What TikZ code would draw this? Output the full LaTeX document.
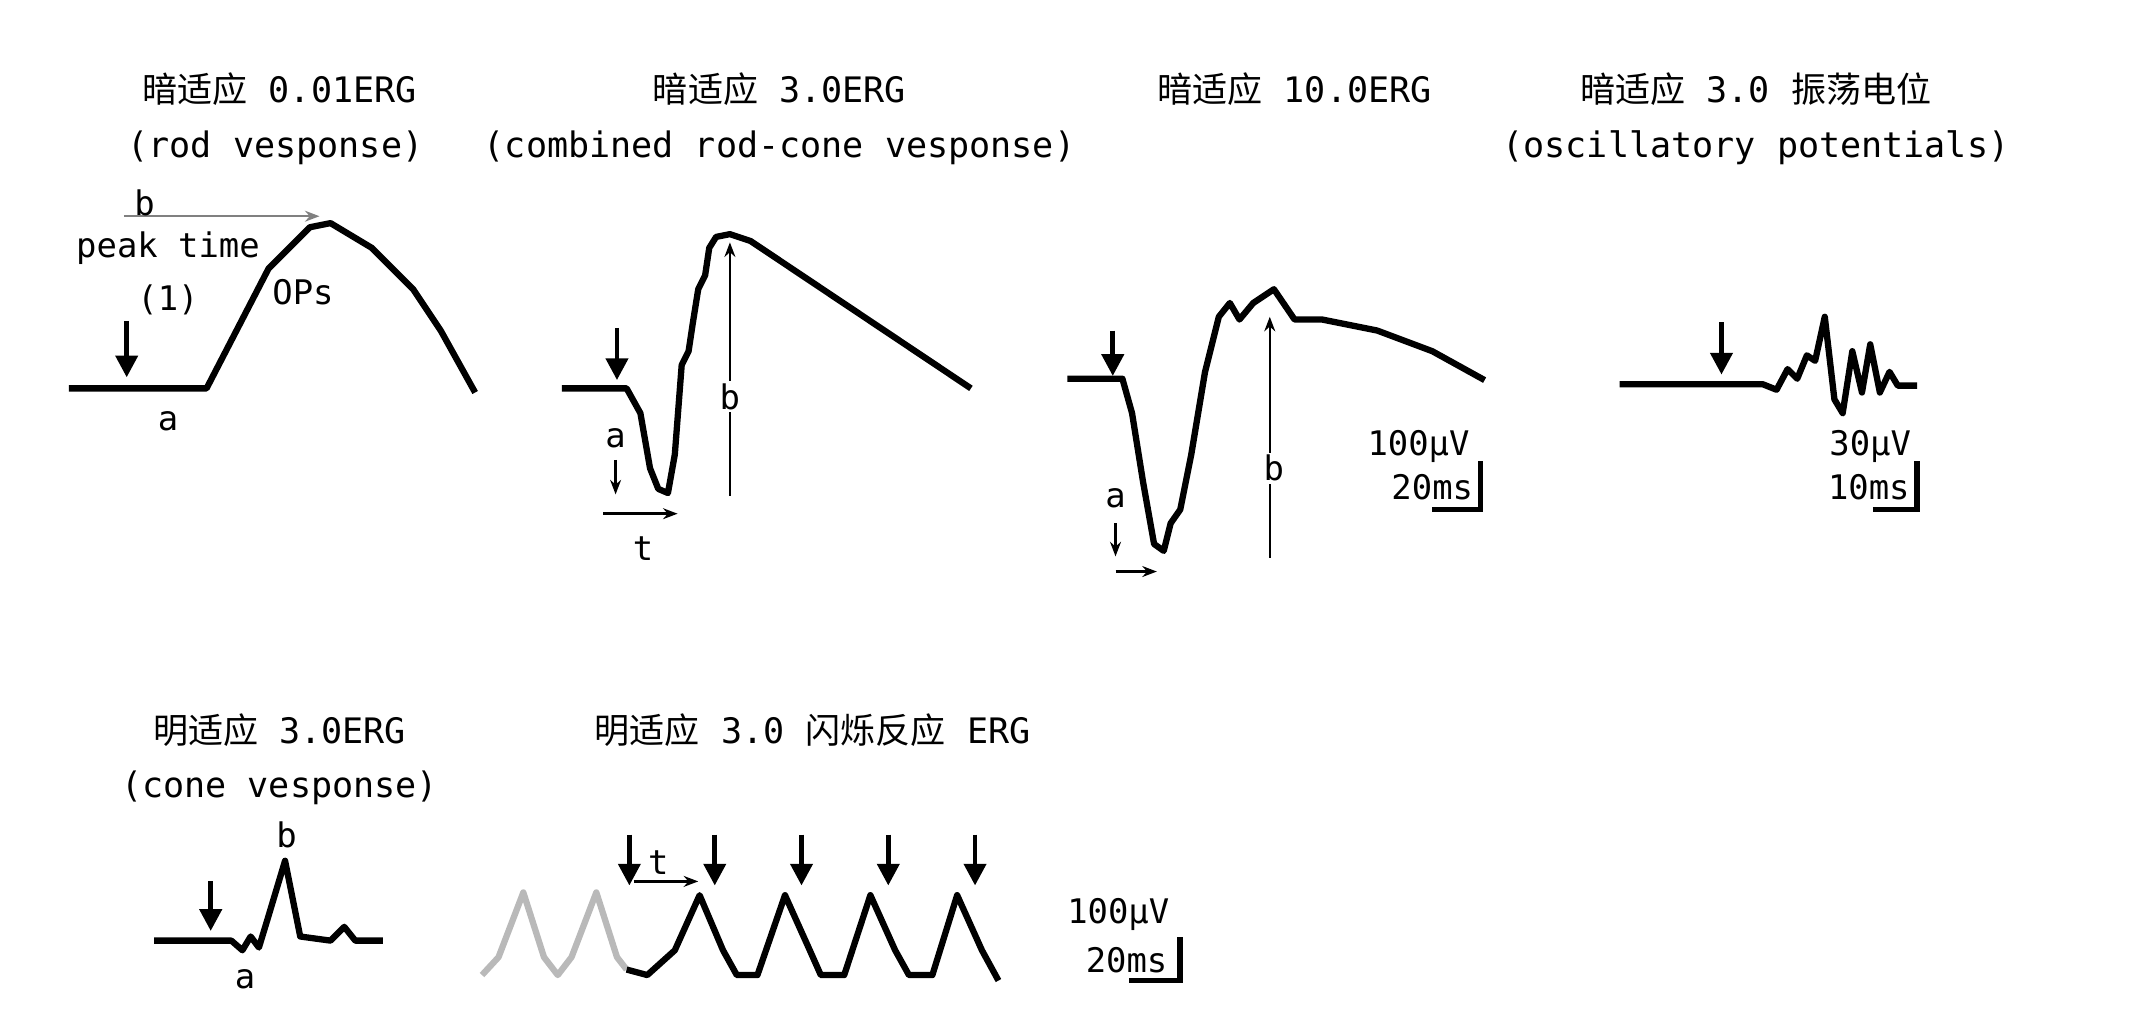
\documentclass[tikz,border=0pt]{standalone}
\usepackage{fontspec}
\setmainfont{DejaVu Sans Mono}
\newfontfamily\cjk{Noto Sans CJK SC}
\usetikzlibrary{arrows.meta,positioning}
\tikzset{trace/.style={line width=2.6pt, line join=round},
	gtrace/.style={line width=2.6pt, line join=round, gray!55},
	flash/.style={line width=2pt, -{Triangle[length=9pt,width=9pt]}},
	thin arrow/.style={line width=1pt, -{Stealth[length=6pt]}},
	lbl/.style={font=\fontsize{14}{17}\selectfont, inner sep=1pt},
	ttl/.style={font=\fontsize{14.5}{18}\selectfont, inner sep=1pt},
	bar/.style={line width=2.4pt}}
\begin{document}
\begin{tikzpicture}[x=0.02cm, y=-0.02cm]
	\useasboundingbox (0,0) rectangle (1551,745);
	% titles
	\node[ttl] (t1) at (203,65) {{\cjk 暗适应} 0.01ERG};
	\node[ttl] (s1) at (200,107) {(rod vesponse)};
	\node[ttl] (t2) at (566,65) {{\cjk 暗适应} 3.0ERG};
	\node[ttl] (s2) at (566,107) {(combined rod-cone vesponse)};
	\node[ttl] (t3) at (940,65) {{\cjk 暗适应} 10.0ERG};
	\node[ttl] (t4) at (1275,65) {{\cjk 暗适应} 3.0 {\cjk 振荡电位}};
	\node[ttl] (s4) at (1275,107) {(oscillatory potentials)};
	\node[ttl] (t5) at (203,530) {{\cjk 明适应} 3.0ERG};
	\node[ttl] (s5) at (203,572) {(cone vesponse)};
	\node[ttl] (t6) at (590,530) {{\cjk 明适应} 3.0 {\cjk 闪烁反应} ERG};
	
	% panel 1
	\draw[trace] (50,282) -- (150,282) -- (195,195) -- (225,165) -- (240,162) -- (270,180) -- (300,210) -- (320,240) -- (345,285);
	\coordinate (p1b0) at (90,157);
	\coordinate (p1b1) at (232,157);
	\draw[thin arrow, gray] (p1b0) -- (p1b1);
	\node[lbl] (p1b) at (105,147) {b};
	\node[lbl] (p1pk) at (122,180) {peak time};
	\node[lbl] (p1one) at (122,218) {(1)};
	\node[lbl] (p1op) at (220,212) {OPs};
	\node[lbl] (p1a) at (122,306) {a};
	\coordinate (f1) at (92,233);
	\coordinate (f1e) at (92,274);
	\draw[flash] (f1) -- (f1e);
	
	% panel 2
	\draw[trace] (408,282) -- (455,282) -- (465,300) -- (472,340) -- (478,355) -- (485,358) -- (490,330) -- (495,265) -- (500,255) -- (503,235) -- (507,210) -- (512,200) -- (515,180) -- (520,172) -- (530,170) -- (545,175) -- (705,282);
	\coordinate (f2) at (448,238);
	\coordinate (f2e) at (448,276);
	\draw[flash] (f2) -- (f2e);
	\coordinate (p2b0) at (530,360);
	\coordinate (p2b1) at (530,176);
	\draw[thin arrow] (p2b0) -- (p2b1);
	\node[lbl, fill=white] (p2b) at (530,288) {b};
	\node[lbl] (p2a) at (447,318) {a};
	\coordinate (p2a0) at (447,334);
	\coordinate (p2a1) at (447,359);
	\draw[thin arrow] (p2a0) -- (p2a1);
	\coordinate (p2t0) at (438,373);
	\coordinate (p2t1) at (492,373);
	\draw[thin arrow] (p2t0) -- (p2t1);
	\node[lbl] (p2t) at (467,398) {t};
	
	% panel 3
	\draw[trace] (775,275) -- (815,275) -- (822,300) -- (830,350) -- (838,395) -- (845,400) -- (850,380) -- (857,370) -- (865,330) -- (875,270) -- (885,230) -- (893,220) -- (900,232) -- (910,220) -- (925,210) -- (940,232) -- (960,232) -- (1000,240) -- (1040,255) -- (1078,276);
	\coordinate (f3) at (808,240);
	\coordinate (f3e) at (808,273);
	\draw[flash] (f3) -- (f3e);
	\coordinate (p3b0) at (922,405);
	\coordinate (p3b1) at (922,230);
	\draw[thin arrow] (p3b0) -- (p3b1);
	\node[lbl, fill=white] (p3b) at (925,340) {b};
	\node[lbl] (p3a) at (810,362) {a};
	\coordinate (p3a0) at (810,380);
	\coordinate (p3a1) at (810,404);
	\draw[thin arrow] (p3a0) -- (p3a1);
	\coordinate (p3t0) at (810,415);
	\coordinate (p3t1) at (840,415);
	\draw[thin arrow] (p3t0) -- (p3t1);
	\node[lbl] (p3uv) at (1030,324) {100μV};
	\node[lbl] (p3ms) at (1040,354) {20ms};
	\draw[bar] (1040,370) -- (1075,370) -- (1075,335);
	
	% panel 4
	\draw[trace] (1176,279) -- (1280,279) -- (1290,283) -- (1298,268) -- (1305,275) -- (1312,258) -- (1318,262) -- (1325,230) -- (1332,290) -- (1338,300) -- (1345,255) -- (1352,285) -- (1358,250) -- (1365,285) -- (1372,270) -- (1378,280) -- (1392,280);
	\coordinate (f4) at (1250,234);
	\coordinate (f4e) at (1250,272);
	\draw[flash] (f4) -- (f4e);
	\node[lbl] (p4uv) at (1358,324) {30μV};
	\node[lbl] (p4ms) at (1357,354) {10ms};
	\draw[bar] (1360,370) -- (1392,370) -- (1392,335);
	
	% panel 5
	\draw[trace] (112,683) -- (168,683) -- (176,690) -- (182,680) -- (188,688) -- (195,665) -- (207,625) -- (218,680) -- (240,683) -- (250,673) -- (258,683) -- (278,683);
	\coordinate (f5) at (153,640);
	\coordinate (f5e) at (153,676);
	\draw[flash] (f5) -- (f5e);
	\node[lbl] (p5b) at (208,606) {b};
	\node[lbl] (p5a) at (178,711) {a};
	
	% panel 6
	\draw[gtrace] (350,708) -- (362,695) -- (380,648) -- (395,695) -- (405,708) -- (415,695) -- (433,648) -- (448,695) -- (455,704);
	\draw[trace] (455,704) -- (470,708) -- (490,690) -- (508,650) -- (525,690) -- (535,708) -- (550,708) -- (570,650) -- (588,690) -- (596,708) -- (613,708) -- (632,650) -- (650,690) -- (660,708) -- (677,708) -- (695,650) -- (713,690) -- (725,712);
	\foreach \x [count=\i] in {457,519,582,645,708} {
		\coordinate (f6\i) at (\x,606);
		\coordinate (f6\i e) at (\x,643);
		\draw[flash] (f6\i) -- (f6\i e);
	}
	\coordinate (p6t0) at (460,640);
	\coordinate (p6t1) at (507,640);
	\draw[thin arrow] (p6t0) -- (p6t1);
	\node[lbl] (p6t) at (478,626) {t};
	\node[lbl] (p6uv) at (812,664) {100μV};
	\node[lbl] (p6ms) at (818,697) {20ms};
	\draw[bar] (820,712) -- (857,712) -- (857,680);
\end{tikzpicture}
\end{document}
